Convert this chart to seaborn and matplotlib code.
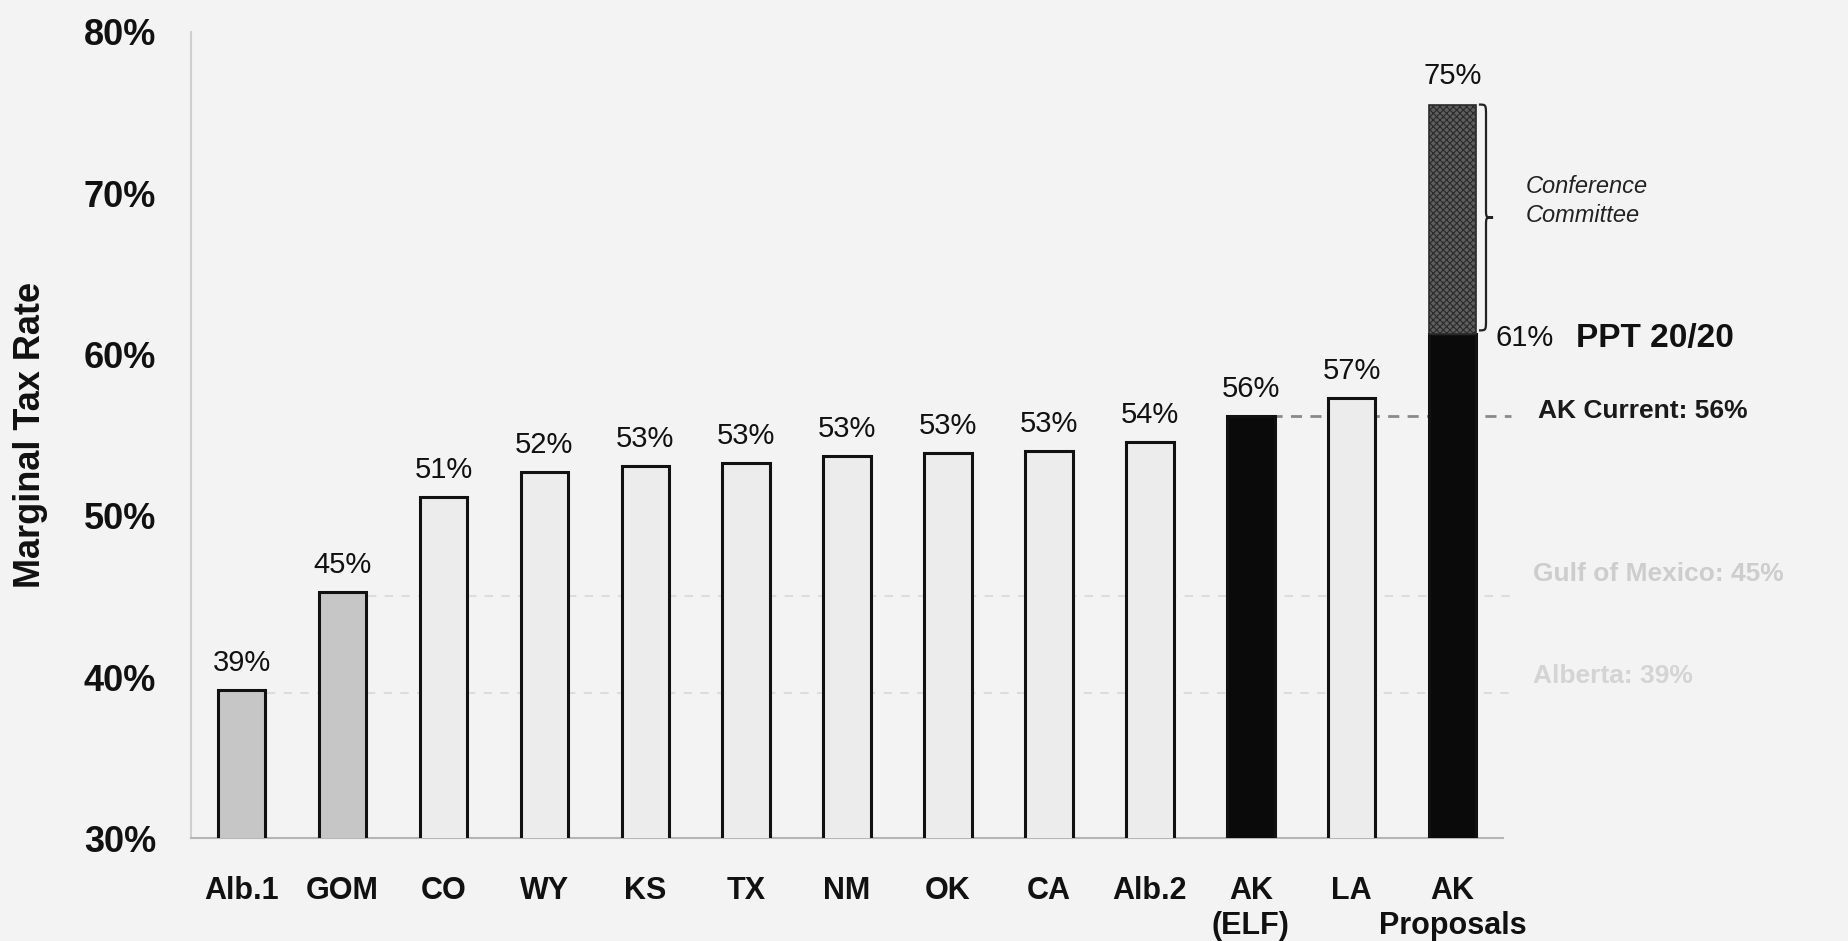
import numpy as np
import pandas as pd
import matplotlib
matplotlib.use("Agg")
import matplotlib.pyplot as plt
from matplotlib.path import Path
from matplotlib.patches import PathPatch
import seaborn as sns

# ---- data ----
categories = ["Alb.1", "GOM", "CO", "WY", "KS", "TX", "NM", "OK", "CA", "Alb.2",
              "AK\n(ELF)", "LA", "AK\nProposals"]
rates = [39.2, 45.3, 51.2, 52.7, 53.1, 53.3, 53.7, 53.9, 54.0, 54.6, 56.2, 57.3, 61.3]
rate_labels = ["39%", "45%", "51%", "52%", "53%", "53%", "53%", "53%", "53%", "54%",
               "56%", "57%"]
proposal_extra = 14.2          # Conference Committee increment on top of PPT 20/20 (61% -> 75%)
proposal_top_label = "75%"
proposal_base_label = "61%"
ref_levels = [56.2, 45, 39]
ref_labels = ["AK Current: 56%", "Gulf of Mexico: 45%", "Alberta: 39%"]
yticks = [30, 40, 50, 60, 70, 80]
ytick_labels = ["30%", "40%", "50%", "60%", "70%", "80%"]

bar_colors = ["#c6c6c6", "#c6c6c6"] + ["#ececec"] * 8 + ["#0a0a0a", "#ececec", "#0a0a0a"]

sns.set_theme(style="white")
plt.rcParams["font.family"] = ["Liberation Sans", "DejaVu Sans"]
plt.rcParams["hatch.linewidth"] = 0.8

bg = "#f3f3f3"
fig = plt.figure(figsize=(18.48, 9.41), dpi=100, facecolor=bg)
ax = fig.add_axes([0.1034, 0.109, 0.710, 0.857])
ax.set_facecolor(bg)

df = pd.DataFrame({"cat": categories, "rate": rates})
sns.barplot(data=df, x="cat", y="rate", hue="cat", palette=bar_colors, legend=False,
            width=0.47, edgecolor="#111111", linewidth=2.2, ax=ax, zorder=3)

# Conference committee extension on top of the AK proposals bar
n = len(categories)
ax.bar([n - 1], [proposal_extra], bottom=[rates[-1]], width=0.47,
       color="#5e5e5e", edgecolor="#2a2a2a", hatch="xxxxx", linewidth=1.2, zorder=3)

ax.set_ylim(30, 80)
ax.set_xlim(-0.5, 12.5)

# reference lines
ax.plot([10.2, 12.58], [ref_levels[0]] * 2, ls=(0, (4, 3)), color="#8a8a8a", lw=2, zorder=2,
        clip_on=False)
ax.plot([1.25, 12.58], [ref_levels[1]] * 2, ls=(0, (4, 4)), color="#dcdcdc", lw=1.5, zorder=1,
        clip_on=False)
ax.plot([0.25, 12.58], [ref_levels[2]] * 2, ls=(0, (4, 4)), color="#dcdcdc", lw=1.5, zorder=1,
        clip_on=False)

ax.text(12.85, ref_levels[0] + 0.3, ref_labels[0], fontsize=19, fontweight="bold",
        color="#1a1a1a", va="center", ha="left", clip_on=False)
ax.text(12.8, ref_levels[1] + 1.4, ref_labels[1], fontsize=19, fontweight="bold",
        color="#cdcdcd", va="center", ha="left", clip_on=False)
ax.text(12.8, ref_levels[2] + 1.1, ref_labels[2], fontsize=19, fontweight="bold",
        color="#d4d4d4", va="center", ha="left", clip_on=False)

# value labels
for i, lab in enumerate(rate_labels):
    ax.text(i, rates[i] + 0.8, lab, ha="center", va="bottom", fontsize=21, color="#111111")
top = rates[-1] + proposal_extra
ax.text(n - 1, top + 0.9, proposal_top_label, ha="center", va="bottom", fontsize=21,
        color="#111111", clip_on=False)
ax.text(12.42, rates[-1] - 0.3, proposal_base_label, ha="left", va="center", fontsize=21,
        color="#111111", clip_on=False)
ax.text(13.22, rates[-1] - 0.3, "PPT 20/20", ha="left", va="center", fontsize=24,
        fontweight="bold", color="#111111", clip_on=False)

# curly brace
x0, x1, x2 = 12.26, 12.33, 12.40
yt, yb = top, rates[-1] + 0.2
ym = (yt + yb) / 2
verts = [(x0, yt), (x1, yt), (x1, yt), (x1, yt - 0.7),
         (x1, ym + 0.5),
         (x1, ym), (x1, ym), (x2, ym),
         (x1, ym), (x1, ym), (x1, ym - 0.5),
         (x1, yb + 0.7),
         (x1, yb), (x1, yb), (x0, yb)]
codes = [Path.MOVETO, Path.CURVE4, Path.CURVE4, Path.CURVE4,
         Path.LINETO,
         Path.CURVE4, Path.CURVE4, Path.CURVE4,
         Path.CURVE4, Path.CURVE4, Path.CURVE4,
         Path.LINETO,
         Path.CURVE4, Path.CURVE4, Path.CURVE4]
ax.add_patch(PathPatch(Path(verts, codes), fill=False, lw=1.6, edgecolor="#222222",
                       clip_on=False))
ax.text(12.72, ym + 1.0, "Conference\nCommittee", ha="left", va="center", fontsize=17,
        fontstyle="italic", color="#222222", linespacing=1.35, clip_on=False)

# axes styling
ax.set_yticks(yticks)
ax.set_yticklabels(ytick_labels, fontsize=26, fontweight="bold", color="#111111")
ax.tick_params(axis="y", length=5, color="#cccccc", pad=20)
ax.tick_params(axis="x", length=0, pad=27)
for lab in ax.get_xticklabels():
    lab.set_fontsize(22)
    lab.set_fontweight("bold")
    lab.set_color("#111111")
ax.set_xlabel("")
ax.set_ylabel("Marginal Tax Rate", fontsize=26, fontweight="bold", color="#111111",
              labelpad=26)
for s in ["top", "right"]:
    ax.spines[s].set_visible(False)
ax.spines["left"].set_color("#d0d0d0")
ax.spines["left"].set_linewidth(1.5)
ax.spines["bottom"].set_color("#b5b5b5")
ax.spines["bottom"].set_linewidth(1.5)

fig.savefig("out.png", dpi=100, facecolor=bg)
